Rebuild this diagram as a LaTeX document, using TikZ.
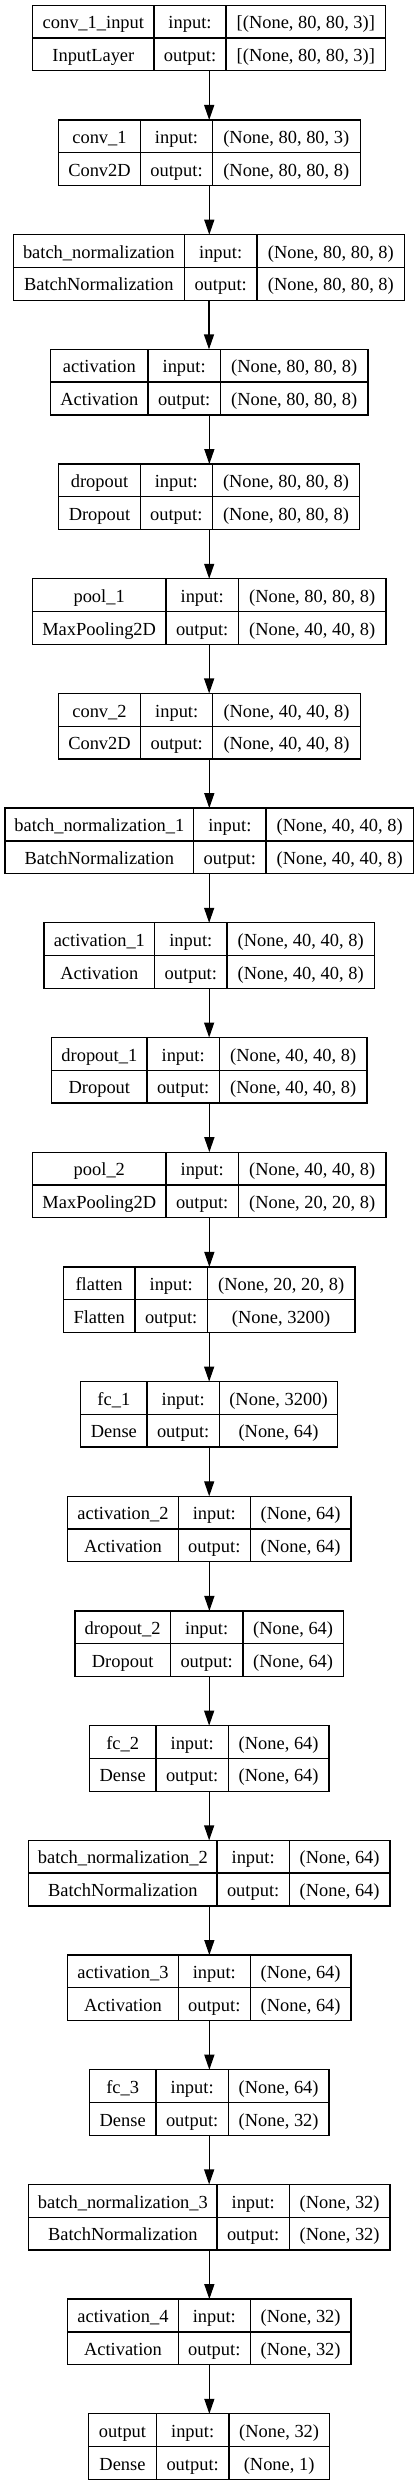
\documentclass[tikz,border=0pt]{standalone}
\usepackage{fontspec}
\setmainfont{Liberation Serif}
\usetikzlibrary{arrows.meta}
\tikzset{
  lay/.style={draw=black, line width=1.3pt, rectangle, inner sep=0pt, outer sep=0pt},
  sep/.style={draw=black, line width=1.3pt},
  txt/.style={anchor=base, inner sep=0pt, font=\fontsize{18.44pt}{22pt}\selectfont},
  arr/.style={draw=black, line width=1.3pt, -{Triangle[length=15pt,width=10pt]}}
}
% #1 index, #2 left, #3 first divider, #4 second divider, #5 right,
% #6 layer name, #7 layer class, #8 input shape, #9 output shape
\newcommand\lyrbox[9]{%
  \pgfmathsetmacro\T{5.3+114.69*(#1-1)}%
  \pgfmathsetmacro\M{\T+32.75}%
  \pgfmathsetmacro\B{\T+65.5}%
  \pgfmathsetmacro\W{#5-#2}%
  \pgfmathsetmacro\X{(#2+#5)/2}%
  \pgfmathsetmacro\Ra{\T+23.6}%
  \pgfmathsetmacro\Rb{\T+56.3}%
  \node[lay, minimum width=\W pt, minimum height=65.5pt] (b#1) at (\X,\M) {};
  \draw[sep] (#2,\M) -- (#5,\M);
  \draw[sep] (#3,\T) -- (#3,\B);
  \draw[sep] (#4,\T) -- (#4,\B);
  \node[txt] (b#1-name) at ({(#2+#3)/2},\Ra) {#6};
  \node[txt] (b#1-cls)  at ({(#2+#3)/2},\Rb) {#7};
  \node[txt] (b#1-il)   at ({(#3+#4)/2},\Ra) {input:};
  \node[txt] (b#1-ol)   at ({(#3+#4)/2},\Rb) {output:};
  \node[txt] (b#1-is)   at ({(#4+#5)/2},\Ra) {#8};
  \node[txt] (b#1-os)   at ({(#4+#5)/2},\Rb) {#9};
}
\begin{document}
\begin{tikzpicture}[x=1pt, y=-1pt]
\useasboundingbox (0,0) rectangle (419,2485);
\lyrbox{1}{32.7}{154}{226}{385.7}{conv\_1\_input}{InputLayer}{[(None, 80, 80, 3)]}{[(None, 80, 80, 3)]}
\lyrbox{2}{58.3}{140.7}{212.3}{360.3}{conv\_1}{Conv2D}{(None, 80, 80, 3)}{(None, 80, 80, 8)}
\lyrbox{3}{13.3}{184.3}{257}{404.7}{batch\_normalization}{BatchNormalization}{(None, 80, 80, 8)}{(None, 80, 80, 8)}
\lyrbox{4}{50.7}{148}{220.3}{368}{activation}{Activation}{(None, 80, 80, 8)}{(None, 80, 80, 8)}
\lyrbox{5}{58.7}{140.3}{212.3}{359.7}{dropout}{Dropout}{(None, 80, 80, 8)}{(None, 80, 80, 8)}
\lyrbox{6}{32.3}{166}{238.3}{386}{pool\_1}{MaxPooling2D}{(None, 80, 80, 8)}{(None, 40, 40, 8)}
\lyrbox{7}{58.3}{140.7}{212.7}{360.3}{conv\_2}{Conv2D}{(None, 40, 40, 8)}{(None, 40, 40, 8)}
\lyrbox{8}{5}{193.7}{266}{413.3}{batch\_normalization\_1}{BatchNormalization}{(None, 40, 40, 8)}{(None, 40, 40, 8)}
\lyrbox{9}{44}{154.7}{227}{374.3}{activation\_1}{Activation}{(None, 40, 40, 8)}{(None, 40, 40, 8)}
\lyrbox{10}{51.7}{147}{219.3}{367}{dropout\_1}{Dropout}{(None, 40, 40, 8)}{(None, 40, 40, 8)}
\lyrbox{11}{32.7}{166}{238.3}{386}{pool\_2}{MaxPooling2D}{(None, 40, 40, 8)}{(None, 20, 20, 8)}
\lyrbox{12}{63.3}{135}{207.3}{355}{flatten}{Flatten}{(None, 20, 20, 8)}{(None, 3200)}
\lyrbox{13}{80.7}{147}{219.3}{337.7}{fc\_1}{Dense}{(None, 3200)}{(None, 64)}
\lyrbox{14}{67.7}{178.3}{250.3}{351}{activation\_2}{Activation}{(None, 64)}{(None, 64)}
\lyrbox{15}{75}{170.3}{243}{343.3}{dropout\_2}{Dropout}{(None, 64)}{(None, 64)}
\lyrbox{16}{89.3}{156}{228.3}{329}{fc\_2}{Dense}{(None, 64)}{(None, 64)}
\lyrbox{17}{28.7}{217}{289.3}{390}{batch\_normalization\_2}{BatchNormalization}{(None, 64)}{(None, 64)}
\lyrbox{18}{67.7}{178.3}{250.3}{351}{activation\_3}{Activation}{(None, 64)}{(None, 64)}
\lyrbox{19}{89.3}{156}{228.3}{329}{fc\_3}{Dense}{(None, 64)}{(None, 32)}
\lyrbox{20}{28.7}{217}{289.3}{390}{batch\_normalization\_3}{BatchNormalization}{(None, 32)}{(None, 32)}
\lyrbox{21}{67.7}{178.3}{250.3}{351}{activation\_4}{Activation}{(None, 32)}{(None, 32)}
\lyrbox{22}{88.7}{156.3}{229}{329.3}{output}{Dense}{(None, 32)}{(None, 1)}
\foreach \i [evaluate=\i as \j using int(\i+1)] in {1,...,21} {
  \draw[arr] (b\i.south) -- (b\i.south |- b\j.north);
}
\end{tikzpicture}
\end{document}
